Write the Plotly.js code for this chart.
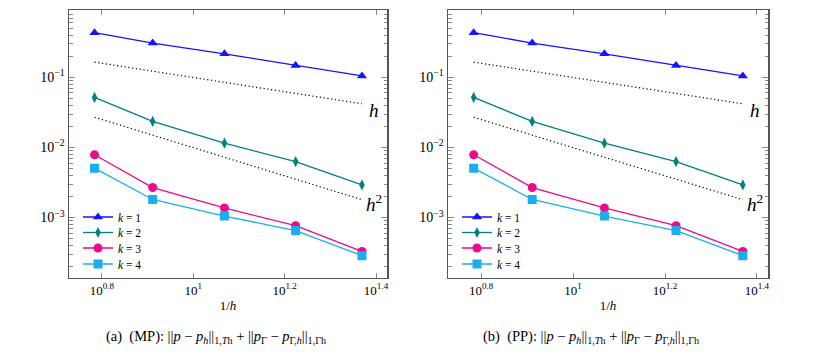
<!DOCTYPE html>
<html>
<head>
<meta charset="utf-8">
<script src="https://cdn.plot.ly/plotly-3.0.1.min.js"></script>
<style>
  html, body { margin: 0; padding: 0; background: #fff; }
  #grafico { width: 817px; height: 355px; }
</style>
</head>
<body>
<div id="grafico"></div>
<script>
// 1/h values of the meshes
var invH = [6.08, 8.15, 11.7, 16.75, 23.4];

// error values per polynomial degree k (same in MP and PP panels)
var errK1 = [0.434, 0.309, 0.217, 0.148, 0.105];
var errK2 = [0.0518, 0.0235, 0.0115, 0.0063, 0.00292];
var errK3 = [0.00788, 0.00268, 0.00137, 0.000764, 0.000329];
var errK4 = [0.00506, 0.00181, 0.00105, 0.000651, 0.000286];

// reference slopes (first and last 1/h)
var refX = [invH[0], invH[invH.length - 1]];
var refH = [0.165, 0.042];
var refH2 = [0.027, 0.0018];

var serieNomi = ['<i>k</i> = 1', '<i>k</i> = 2', '<i>k</i> = 3', '<i>k</i> = 4'];
var serieDati = [errK1, errK2, errK3, errK4];
var serieColori = ['#1414ff', '#00807f', '#ec0a8c', '#1aaeef'];
var serieSimboli = ['triangle-up', 'diamond-tall', 'circle', 'square'];
var serieSize = [9, 8, 9, 9];

var xTickVals = [Math.pow(10, 0.8), 10, Math.pow(10, 1.2), Math.pow(10, 1.4)];
var xTickText = ['10<sup>0.8</sup>', '10<sup>1</sup>', '10<sup>1.2</sup>', '10<sup>1.4</sup>'];
var yTickVals = [0.001, 0.01, 0.1];
var yTickText = ['10<sup>\u22123</sup>', '10<sup>\u22122</sup>', '10<sup>\u22121</sup>'];

var font = 'Liberation Serif, Times New Roman, serif';

// one small legend per entry, so the rows can sit 16px apart like the reference
var legendaY = [217, 232.5, 248, 264];
var dati = [];
['', '2'].forEach(function (suf, p) {
    var xa = 'x' + suf, ya = 'y' + suf;
    // dotted reference lines
    [refH, refH2].forEach(function (r) {
        dati.push({
            type: 'scatter', mode: 'lines', x: refX, y: r,
            xaxis: xa, yaxis: ya, showlegend: false, hoverinfo: 'skip',
            line: { color: '#000', width: 1.2, dash: '1.2px,2.6px' }
        });
    });
    for (var i = 0; i < serieDati.length; i++) {
        var n = p * 4 + i + 1;
        dati.push({
            type: 'scatter', mode: 'lines+markers',
            x: invH, y: serieDati[i], name: serieNomi[i],
            xaxis: xa, yaxis: ya,
            legend: n === 1 ? 'legend' : 'legend' + n,
            line: { color: serieColori[i], width: 1.3 },
            marker: { color: serieColori[i], symbol: serieSimboli[i], size: serieSize[i] }
        });
    }
});

function asseX(dom, anchor) {
    return {
        type: 'log', domain: dom, anchor: anchor, range: [0.728, 1.424],
        tickmode: 'array', tickvals: xTickVals, ticktext: xTickText,
        ticks: 'inside', ticklen: 5, tickcolor: '#888', tickwidth: 1,
        showline: true, linecolor: '#555', linewidth: 1.5, mirror: 'ticks',
        showgrid: false, zeroline: false,
        tickfont: { family: font, size: 13, color: '#000' },
        title: { text: '1/<i>h</i>', font: { family: font, size: 13, color: '#000' }, standoff: 4 }
    };
}
function asseY(anchor) {
    return {
        type: 'log', domain: [0.218, 0.971], anchor: anchor, range: [-3.857, -0.043],
        tickmode: 'array', tickvals: yTickVals, ticktext: yTickText,
        ticks: 'inside', ticklen: 6, tickcolor: '#888', tickwidth: 1,
        minor: { ticks: 'inside', ticklen: 3.5, tickcolor: '#888', dtick: 'D1', showgrid: false },
        showline: true, linecolor: '#555', linewidth: 1.5, mirror: 'ticks',
        showgrid: false, zeroline: false,
        tickfont: { family: font, size: 14, color: '#000' }
    };
}

function legenda(xpx, ypx) {
    return {
        x: xpx / 817, y: 1 - ypx / 355, xanchor: 'left', yanchor: 'middle',
        bgcolor: 'rgba(255,255,255,0)', borderwidth: 0,
        font: { family: font, size: 11.5, color: '#000' },
        itemwidth: 30
    };
}

var lx = Math.log10(refX[1]);
var etichette = [];
['', '2'].forEach(function (suf) {
    etichette.push({
        xref: 'x' + suf, yref: 'y' + suf, x: lx, y: Math.log10(refH[1]),
        text: '<i>h</i>', showarrow: false, xanchor: 'left', xshift: 5, yshift: -7,
        font: { family: font, size: 19, color: '#000' }
    });
    etichette.push({
        xref: 'x' + suf, yref: 'y' + suf, x: lx, y: Math.log10(refH2[1]),
        text: '<i>h</i><sup>2</sup>', showarrow: false, xanchor: 'left', xshift: 2, yshift: -3,
        font: { family: font, size: 19, color: '#000' }
    });
});
var caption = '||<i>p</i> \u2212 <i>p<sub>h</sub></i>||<sub>1,<i>T</i>h</sub> + ||<i>p</i><sub>\u0393</sub> \u2212 <i>p</i><sub>\u0393,<i>h</i></sub>||<sub>1,\u0393h</sub>';
etichette.push({
    xref: 'paper', yref: 'paper', x: 216 / 817, y: 1 - 337 / 355, xanchor: 'center', yanchor: 'middle',
    text: '(a)  (MP): ' + caption, showarrow: false,
    font: { family: font, size: 14.5, color: '#000' }
});
etichette.push({
    xref: 'paper', yref: 'paper', x: 591 / 817, y: 1 - 337 / 355, xanchor: 'center', yanchor: 'middle',
    text: '(b)  (PP): ' + caption, showarrow: false,
    font: { family: font, size: 14.5, color: '#000' }
});

var layout = {
    width: 817, height: 355,
    margin: { l: 0, r: 0, t: 0, b: 0 },
    font: { family: font, color: '#000' },
    paper_bgcolor: '#fff', plot_bgcolor: '#fff',
    showlegend: true,
    xaxis: asseX([69 / 817, 387 / 817], 'y'),
    yaxis: asseY('x'),
    xaxis2: asseX([448 / 817, 768 / 817], 'y2'),
    yaxis2: asseY('x2'),
    annotations: etichette
};
for (var j = 0; j < 8; j++) {
    var key = j === 0 ? 'legend' : 'legend' + (j + 1);
    layout[key] = legenda(j < 4 ? 78 : 457, legendaY[j % 4]);
}

Plotly.newPlot('grafico', dati, layout, { staticPlot: true });
</script>
</body>
</html>
